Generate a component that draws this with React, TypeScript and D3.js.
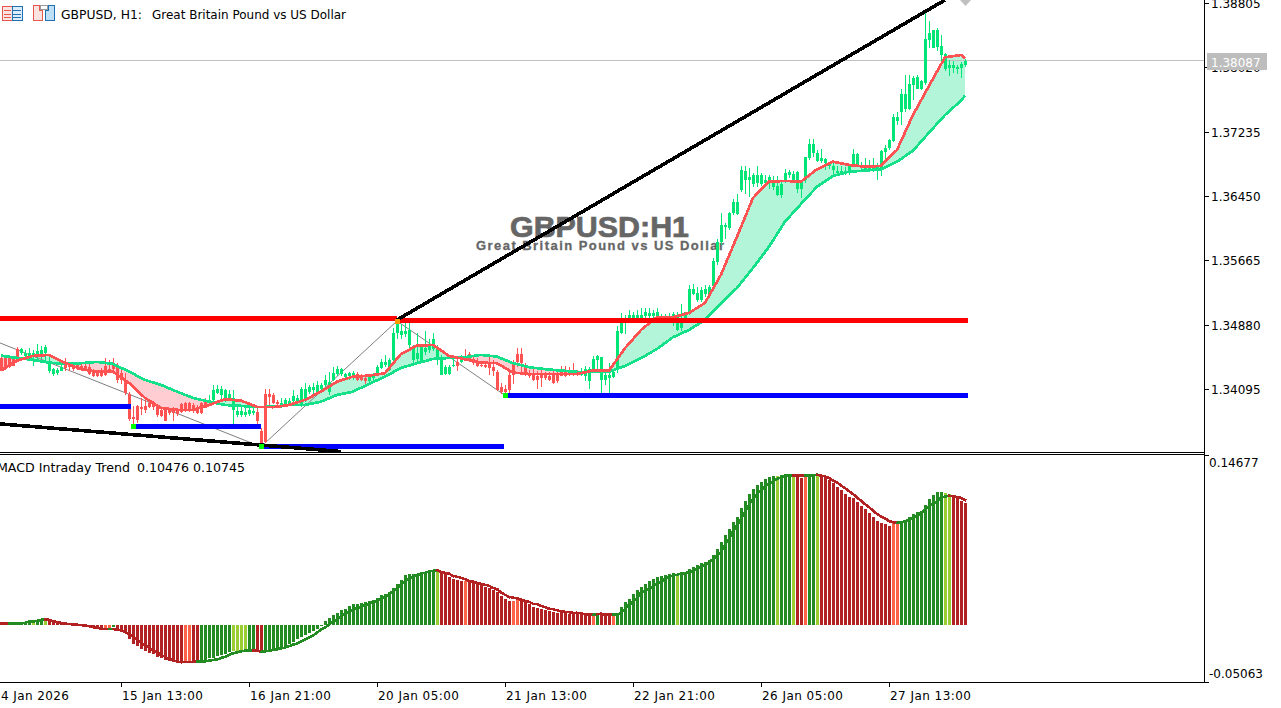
import React from "react";
import * as d3 from "d3";

// Prices are pips above 1.3000
const opens = [447,448,447,446,458,454,450,449,448,451,452,453,432,428,429,432,441,439,439,439,438,437,436,430,430,431,438,434,439,437,429,421,404,375,389,387,389,393,391,387,384,385,384,384,383,391,393,392,390,385,392,394,392,396,405,402,398,399,384,378,378,378,379,380,382,358,403,403,402,394,390,391,390,395,394,390,397,406,408,406,410,414,406,
421,428,428,424,425,424,428,425,423,419,423,427,435,439,433,445,478,475,477,463,445,446,443,455,457,458,445,427,428,428,437,443,443,450,452,446,441,439,439,443,436,430,412,410,427,442,452,452,438,429,428,425,427,427,425,427,429,431,430,432,433,430,427,425,419,433,445,421,421,423,424,435,478,490,495,496,495,496,499,499,498,499,
493,493,494,490,482,484,496,502,526,518,518,525,525,535,564,589,607,606,624,623,652,665,665,660,661,660,661,663,656,646,646,663,671,665,654,653,664,691,697,688,688,685,682,677,673,673,673,673,682,683,679,677,677,677,675,678,699,703,
712,736,748,751,751,780,776,776,783,835,826,827,817,800,801,801,800,801,805];
const closes = [432,434,436,438,449,458,454,453,454,456,457,461,444,434,433,436,435,436,434,436,435,434,428,425,425,425,427,432,434,421,421,405,373,373,372,385,384,387,387,378,377,371,380,380,379,382,384,384,384,380,380,386,396,408,409,410,408,404,398,383,383,382,384,383,370,343,345,400,392,391,393,396,395,401,398,410,410,412,412,414,414,421,418,
429,434,434,428,429,429,420,420,419,424,427,436,443,442,445,478,490,480,480,482,459,454,463,459,465,470,458,445,436,436,439,438,446,445,446,441,438,437,436,435,432,408,406,406,408,427,442,441,427,425,421,421,423,423,420,417,419,425,425,427,428,427,430,434,434,446,450,448,427,427,430,480,491,496,500,500,500,500,503,502,502,503,
499,499,499,501,497,495,503,531,531,527,530,531,534,566,589,610,610,624,638,638,677,676,668,671,671,671,665,668,665,657,660,673,674,672,674,663,692,709,709,698,691,690,686,682,676,676,676,681,696,696,683,681,681,682,680,700,704,713,
742,742,770,770,782,789,790,785,837,844,847,848,828,818,805,805,803,806,810];
const highs = [449,450,449,448,461,460,457,459,457,465,462,463,449,435,435,441,447,443,441,443,443,441,443,434,433,435,447,445,447,441,435,429,406,389,390,398,398,396,395,389,386,387,386,387,386,393,394,394,393,390,394,398,402,414,414,413,410,408,408,390,388,389,387,387,385,362,409,409,405,396,398,398,398,408,402,412,417,414,417,419,417,427,430,
436,438,435,429,430,431,430,428,427,425,429,439,446,451,447,484,492,489,491,490,463,478,465,480,471,478,463,451,439,439,447,449,451,458,455,451,447,441,441,451,445,433,417,414,433,445,459,459,441,433,434,432,433,430,430,434,432,438,437,436,441,433,435,438,436,450,451,449,433,441,433,486,502,500,506,503,506,508,508,508,506,508,
501,501,502,503,503,513,504,537,538,534,534,537,537,569,593,624,612,626,641,648,682,682,679,673,681,673,671,671,669,669,663,678,677,675,675,665,693,714,714,701,702,691,687,687,681,681,680,683,702,697,687,691,689,691,685,701,707,714,
745,748,776,793,793,791,793,787,870,859,848,850,841,820,811,810,805,809,812];
const lows = [431,433,435,437,445,451,447,445,438,446,446,443,429,425,427,431,432,431,431,433,432,431,427,424,424,424,425,429,431,417,415,402,370,364,368,378,380,386,384,375,375,370,378,371,376,380,382,382,380,379,379,386,390,394,403,394,394,396,367,375,375,375,377,378,366,341,343,390,391,386,386,389,389,393,391,388,394,403,404,402,408,410,402,
419,425,425,421,421,421,419,419,412,416,421,427,434,436,432,443,471,471,473,459,440,441,443,451,454,456,439,427,427,427,436,431,441,445,445,439,436,436,435,427,425,407,404,405,404,416,436,427,425,423,419,410,412,421,419,416,417,425,424,425,425,425,425,419,410,429,433,404,414,405,423,429,477,477,493,493,492,493,495,496,495,496,
491,491,491,486,480,480,492,500,524,516,516,522,520,534,561,585,593,604,622,622,650,648,644,656,656,657,656,654,652,645,642,661,667,663,649,643,661,689,693,687,685,677,678,671,669,671,671,671,680,680,675,674,675,674,664,669,689,701,
711,732,732,748,750,762,775,774,780,825,825,822,809,798,791,795,794,789,803];

// Moving averages, read every 4th bar
const maBars = [0,4,8,12,16,20,24,28,32,36,40,44,48,52,56,60,64,68,72,76,80,84,88,92,96,100,104,108,112,116,120,124,128,132,136,140,144,148,152,156,160,164,168,172,176,180,184,188,192,196,200,204,208,212,216,220,224,228,232,236,240,241];
const slowMA = [450.2,447.4,445,441.7,440.1,441,442.6,440.1,430.7,420.6,414.5,406.3,398.6,394.1,390,388.9,387.3,388,390,390,394.1,402.3,406.3,415.7,424.6,435.2,441,446.2,447.4,448.3,451.1,449,441,436.1,433.7,432,430.4,430.4,430.4,437.7,447.1,458.4,472.7,481.6,493.8,513.3,532.8,557.2,583.2,613.7,635.3,656.4,669.5,674.7,676,677.6,686.9,700.3,722.3,743.9,761.3,767.4];
const fastMA = [432,444.1,449.9,451.1,441.3,433.7,430.7,430.7,416.9,398.6,386.4,384,384,390,397,395.3,387.7,387.3,390,396.2,406.3,418.5,424.6,425.8,428.8,452.3,462.4,463.3,449.9,445.8,441.7,441,429.5,427.9,427.9,427.9,427.9,432,432,459.3,481.6,497.1,497.1,502.3,514.5,549,595.4,642.6,662.5,663.4,662.5,677.6,686.9,682.9,680.8,681.7,701.2,743.9,779.3,814.3,817.1,813.1];

// Structure levels: bar from, bar to, pips
const redLevels = [[-1,99,495.6],[99,241.7,493]];
const blueLevels = [[-1,32.5,388.3],[33,65,363.9],[65,125.8,339.5],[126,241.7,401.7]];
const zigzag = [[-0.25,465.7],[65,339],[99,492.5],[126,401.7]];
const trendUp = [[99,493.8],[236,884.2]];
const trendDown = [[-0.25,366.9],[85,333.2]];
const swingDots = [[33,363.9,"#00ff00"],[65,339.5,"#00ff00"],[99,492.5,"#ff9900"],[126,401.7,"#00ff00"]];

// MACD histogram and signal, in thousandths
const macdHist = [.9,.9,.9,.9,.9,1.7,1.7,2.6,2.6,3.4,4.3,4.3,4.3,2.6,2.2,1.7,1.7,.9,.9,.4,.4,0,-.9,-2.6,-3.4,-4.3,-4.3,-3.4,-1.7,-3.4,-5.2,-6.9,-12.1,-16.4,-18.1,-20.7,-22.4,-24.1,-25,-27.6,-28.4,-30.2,-31,-31.9,-32.8,-32.8,-32.8,-31.9,-31.9,-31.9,-31,-30.2,-28.4,-28.4,-26.7,-25.9,-25,-23.3,-22.4,-22.4,-22.4,-22.4,-22.4,-22.4,-23.3,-24.1,-21.6,-21.6,-20.7,-19.8,-19.8,-18.1,-16.4,-14.7,-12.1,-10.3,-8.6,-6.9,-5.2,-3.4,-.9,3,5.6,
8.6,10.3,12.9,13.8,16.4,18.1,18.1,19,19.8,20.7,21.6,23.3,25.9,26.7,28.4,31.9,35.3,38.8,43.1,44,44,44,44.8,45.7,47.4,47.4,47.4,
44.8,44,41.4,39.7,38.8,37.9,37.9,37.1,36.2,35.3,34.5,32.8,31.9,30.2,28.4,25,22.4,20.7,20.7,21.6,20.7,19.8,18.1,15.5,14.7,13.8,12.9,12.1,11.2,10.3,10.3,10.3,9.5,9.5,9.5,8.6,8.6,8.6,7.8,9.5,8.6,7.8,7.8,7.8,9.5,15.5,19.8,22.4,26.7,30.2,
32.8,35.3,37.9,39.7,41.1,42.2,43.1,44,44.8,42.5,44.8,44.6,48.3,50,51.7,53.2,54,55.8,60.3,65.5,71.3,77,82.8,88.5,93.1,100.9,106.9,112.9,117.2,120.7,123.3,125.9,127.6,128.4,128.4,129.3,130.2,130.2,129.9,128.4,126.7,127.6,129.3,130.2,129.3,128.4,126.7,125,122.4,119,116.4,112.9,110.3,109.5,106,102.6,100,96.5,93.1,89.6,87.9,87.1,85.3,87.7,87.1,89.6,90.5,93.1,95.7,97.4,98.3,103.4,108.6,112.1,114.6,114.6,113.8,112.9,112.1,110.9,106.9,104.8];
const macdSignal = [1.1,1.1,1.1,.9,.9,1.5,1.7,2.6,2.8,3.4,4.3,4.6,4.3,3.2,2.3,1.7,1.1,.6,.3,0,-.3,-.6,-1.1,-2,-2.6,-3.4,-3.7,-3.7,-3.7,-4.3,-4.9,-6.3,-8,-10.3,-12.9,-15.3,-17.5,-19.8,-21.8,-23.9,-25.9,-27.6,-29.3,-30.8,-31.6,-32.2,-32.2,-32.2,-31.9,-31.9,-31.9,-31.6,-31,-30.4,-29.9,-28.7,-27.6,-26.1,-24.7,-23.9,-23,-22.4,-22.2,-22.2,-22.4,-23.3,-23,-22.4,-21.8,-21.3,-20.4,-19.6,-18.4,-17.2,-16.1,-14.4,-12.7,-10.9,-9.2,-6.9,-4.3,-2.3,0,
2.6,4.7,7.3,9.5,11.2,12.9,14.2,15.5,16.8,18.1,19.4,20.7,22.4,24.1,26.3,28.9,31.5,34.5,37.5,39.7,40.9,42.7,44,44.8,45.7,46.5,47,
45.7,44.8,44,42.2,41.4,40.5,39.2,37.9,37.1,36.2,35.3,34.5,33.6,31.9,30.6,28,25.9,24.1,23.3,22.8,21.6,20.7,19.8,18.1,17.7,16.4,15.1,13.8,13.4,12.5,11.6,11.2,10.8,10.3,10.3,9.9,9.1,9.1,8.6,9.1,9.5,8.6,8.6,8.6,8.6,10.3,13.4,17.2,19.8,22.8,
27.8,29.3,31,33,35.3,37.1,39.4,41.1,42.5,43.1,44,44.6,45.4,46.5,48.3,50,51.7,53.7,56.6,59.7,62.7,69,74.1,80.4,85.6,91.4,97.4,103.4,108.6,112.7,116.1,119.2,121.5,123.5,125.6,127,128.2,128.7,128.7,128.7,128.7,128.7,128.7,129,129.3,128.7,127.8,126.5,124.4,122.7,120.1,117.8,115.2,112.7,109.7,106.9,104,101.5,98.3,95.7,93.4,91.6,89.6,88.5,87.9,88.5,89,90.5,92.2,94,96.3,99.1,102,104,106.3,109.2,110.6,111.2,110.9,110.1,109.2,107.45];
const macdColorRuns = [["r",1],["c",1],["r",1],["g",5],["l",1],["g",2],["l",1],["r",14],["c",2],["g",1],["r",17],["c",2],["r",2],["g",8],["l",4],["g",2],["r",2],["g",43],["l",1],["r",6],["c",1],["r",11],["c",2],["r",18],["c",1],["g",1],["r",3],["c",1],["g",15],["l",1],["g",24],["l",1],["g",3],["l",1],["r",2],["c",1],["g",2],["l",1],["r",18],["c",2],["g",11],["l",2],["r",4]] as [string,number][];
const macdPalette: Record<string,string> = { g:"#228b22", l:"#9acd32", r:"#b22222", c:"#ff6347" };

const priceTicks = ["1.38805","1.38020","1.37235","1.36450","1.35665","1.34880","1.34095"];
const timeTickBars = [-2,30,62,94,126,158,190,222];
const timeTickLabels = ["14 Jan 2026","15 Jan 13:00","16 Jan 21:00","20 Jan 05:00","21 Jan 13:00","22 Jan 21:00","26 Jan 05:00","27 Jan 13:00"];
const lastPrice = 1.38087;
const macdTop = 0.14677, macdBottom = -0.05063;

const UP = "#00e676", DOWN = "#ff5252";
const TXT = "'DejaVu Sans', sans-serif";
const W = 1281, H = 708, AXIS_X = 1204;

const x = d3.scaleLinear().domain([0, 241]).range([1, 965]);
const yP = d3.scaleLinear().domain([1.34095, 1.38805]).range([389, 3]);
const pip = (v: number) => yP(1.3 + v / 10000);
const yM = d3.scaleLinear().domain([macdBottom, macdTop]).range([683.5, 454.5]);
const mil = (v: number) => yM(v / 1000);

const maRows = maBars.map((b, i) => ({ b, s: slowMA[i], f: fastMA[i] }));
const lineSlow = d3.line<any>().x(d => x(d.b)).y(d => pip(d.s))(maRows)!;
const lineFast = d3.line<any>().x(d => x(d.b)).y(d => pip(d.f))(maRows)!;
const bandPath = d3.area<any>().x(d => x(d.b)).y0(d => pip(d.s)).y1(d => pip(d.f))(maRows)!;
const aboveSlow = d3.area<any>().x(d => x(d.b)).y0(0).y1(d => pip(d.s))(maRows)!;
const belowSlow = d3.area<any>().x(d => x(d.b)).y0(452).y1(d => pip(d.s))(maRows)!;
const zigPath = d3.line<number[]>().x(d => x(d[0])).y(d => pip(d[1]))(zigzag)!;
const seg = d3.line<number[]>().x(d => x(d[0])).y(d => pip(d[1]));

const macdColors: string[] = macdColorRuns.flatMap(([c, n]) => d3.range(n).map(() => c));

export default function App() {
  return (
    <svg width={W} height={H} viewBox={`0 0 ${W} ${H}`} style={{ position: "absolute", left: 0, top: 0, display: "block", background: "#fff" }}>
      <defs>
        <clipPath id="main"><rect x={0} y={0} width={AXIS_X} height={452} /></clipPath>
        <clipPath id="up"><path d={aboveSlow} /></clipPath>
        <clipPath id="dn"><path d={belowSlow} /></clipPath>
      </defs>

      <g clipPath="url(#main)">
        <path d={bandPath} fill="#b2f5d8" clipPath="url(#up)" />
        <path d={bandPath} fill="#ffcdd2" clipPath="url(#dn)" />
        <path d={zigPath} fill="none" stroke="#808080" strokeWidth={1} />

        <text x={599.5} y={237} textAnchor="middle" textLength={179} lengthAdjust="spacingAndGlyphs" fontFamily="'Liberation Sans', Arial, sans-serif" fontWeight="bold" fontSize={29} fill="#666666" stroke="#666666" strokeWidth={0.7}>GBPUSD:H1</text>
        <text x={600} y={250} textAnchor="middle" textLength={248} lengthAdjust="spacing" fontFamily="'Liberation Sans', Arial, sans-serif" fontWeight="bold" fontSize={13} fill="#666666" stroke="#666666" strokeWidth={0.3}>Great Britain Pound vs US Dollar</text>

        <line x1={0} x2={AXIS_X} y1={Math.floor(yP(lastPrice)) + 0.5 - 1} y2={Math.floor(yP(lastPrice)) + 0.5 - 1} stroke="#c0c0c0" strokeWidth={1} shapeRendering="crispEdges" />

        {opens.map((o, i) => {
          const c = closes[i];
          const col = c >= o ? UP : DOWN;
          const cx = Math.round(x(i));
          const top = Math.round(pip(Math.max(o, c)));
          const bot = Math.round(pip(Math.min(o, c)));
          return (
            <g key={i} fill={col} shapeRendering="crispEdges">
              <rect x={cx} y={Math.round(pip(highs[i]))} width={1} height={Math.max(1, Math.round(pip(lows[i])) - Math.round(pip(highs[i])))} />
              <rect x={cx - 1} y={top} width={3} height={Math.max(1, bot - top)} />
            </g>
          );
        })}

        <path d={lineSlow} fill="none" stroke="#14e08a" strokeWidth={2.7} shapeRendering="crispEdges" />
        <path d={lineFast} fill="none" stroke={DOWN} strokeWidth={2.7} shapeRendering="crispEdges" />

        {redLevels.map((l, i) => (
          <rect key={i} x={x(l[0])} y={pip(l[2]) - 2.5} width={x(l[1]) - x(l[0])} height={5} fill="#ff0000" shapeRendering="crispEdges" />
        ))}
        {blueLevels.map((l, i) => (
          <rect key={i} x={x(l[0])} y={pip(l[2]) - 2.5} width={x(l[1]) - x(l[0])} height={5} fill="#0000ff" shapeRendering="crispEdges" />
        ))}
        <path d={seg(trendUp)!} stroke="#000" strokeWidth={3.6} fill="none" shapeRendering="crispEdges" />
        <path d={seg(trendDown)!} stroke="#000" strokeWidth={3.6} fill="none" shapeRendering="crispEdges" />
        {swingDots.map((d, i) => (
          <rect key={i} x={x(d[0] as number) - 2} y={pip(d[1] as number) - 2} width={5} height={5} fill={d[2] as string} shapeRendering="crispEdges" />
        ))}
        <polygon points={`${x(241) - 5},0 ${x(241) + 6},0 ${x(241) + 0.5},6`} fill="#c0c0c0" />
      </g>

      {/* MACD */}
      {macdHist.map((v, i) => {
        const cx = Math.round(x(i));
        const y0 = Math.round(mil(0));
        const yv = Math.round(mil(v));
        return <rect key={i} x={cx - 1} y={Math.min(y0, yv)} width={3} height={Math.max(1, Math.abs(y0 - yv))} fill={macdPalette[macdColors[i]]} shapeRendering="crispEdges" />;
      })}
      {macdSignal.slice(1).map((v, k) => {
        const i = k + 1;
        const col = macdColors[i] === "r" || macdColors[i] === "c" ? macdPalette.r : macdPalette.g;
        return <line key={i} x1={x(i - 1)} x2={x(i)} y1={mil(macdSignal[i - 1])} y2={mil(v)} stroke={col} strokeWidth={2.6} strokeLinecap="square" shapeRendering="crispEdges" />;
      })}

      {/* frame */}
      <g stroke="#000" strokeWidth={1} shapeRendering="crispEdges">
        <line x1={0} x2={AXIS_X + 1} y1={452.5} y2={452.5} />
        <line x1={0} x2={AXIS_X + 1} y1={454.5} y2={454.5} />
        <line x1={0} x2={AXIS_X + 1} y1={682.5} y2={682.5} />
        <line x1={AXIS_X + 0.5} x2={AXIS_X + 0.5} y1={0} y2={683} />
        {priceTicks.map(t => (
          <line key={t} x1={AXIS_X} x2={AXIS_X + 5} y1={Math.round(yP(+t)) + 0.5} y2={Math.round(yP(+t)) + 0.5} />
        ))}
        <line x1={AXIS_X} x2={AXIS_X + 5} y1={455.5} y2={455.5} />
        <line x1={AXIS_X} x2={AXIS_X + 5} y1={682.5} y2={682.5} />
        {timeTickBars.map(b => (
          <line key={b} x1={Math.round(x(b)) + 0.5} x2={Math.round(x(b)) + 0.5} y1={682} y2={687} />
        ))}
      </g>

      <g fontFamily={TXT} fontSize={12} fill="#000">
        {priceTicks.map(t => (
          <text key={t} x={1211} y={yP(+t) + 5}>{t}</text>
        ))}
        <text x={1209} y={467}>0.14677</text>
        <text x={1209} y={678}>-0.05063</text>
        {timeTickBars.map((b, i) => (
          <text key={b} x={b < 0 ? -7 : x(b) + 1} y={700} textLength={b < 0 ? 76 : 81} lengthAdjust="spacing">{timeTickLabels[i]}</text>
        ))}
        <text x={61} y={19} textLength={81} lengthAdjust="spacingAndGlyphs">GBPUSD, H1:</text>
        <text x={152} y={19} textLength={194} lengthAdjust="spacingAndGlyphs">Great Britain Pound vs US Dollar</text>
        <text x={-3} y={472} textLength={133} lengthAdjust="spacingAndGlyphs">MACD Intraday Trend</text>
        <text x={137} y={472} textLength={108} lengthAdjust="spacingAndGlyphs">0.10476 0.10745</text>
      </g>

      <rect x={1207} y={53} width={60} height={17} fill="#bdbdbd" />
      <text x={1211} y={67} fontFamily={TXT} fontSize={12} fill="#fff">{lastPrice.toFixed(5)}</text>

      {/* toolbar icons */}
      <g shapeRendering="crispEdges">
        <rect x={2} y={6} width={10} height={14} fill="#fbe3e0" stroke="#e8574f" />
        <rect x={12} y={6} width={10} height={14} fill="#dcecf8" stroke="#1f6fb2" />
        {[10, 14, 17].map(v => (
          <g key={v}>
            <line x1={4} x2={11} y1={v} y2={v} stroke="#e8574f" />
            <line x1={13} x2={21} y1={v} y2={v} stroke="#1f6fb2" />
          </g>
        ))}
        <path d="M33.5 5.5h6v5h3v10h-9z" fill="#fbe3e0" stroke="#e8574f" />
        <path d="M54.5 5.5h-6v5h-3v10h9z" fill="#bfdff5" stroke="#1f6fb2" />
        <rect x={40} y={5} width={7} height={4} fill="#fff" stroke="#9a9a9a" />
      </g>
    </svg>
  );
}
